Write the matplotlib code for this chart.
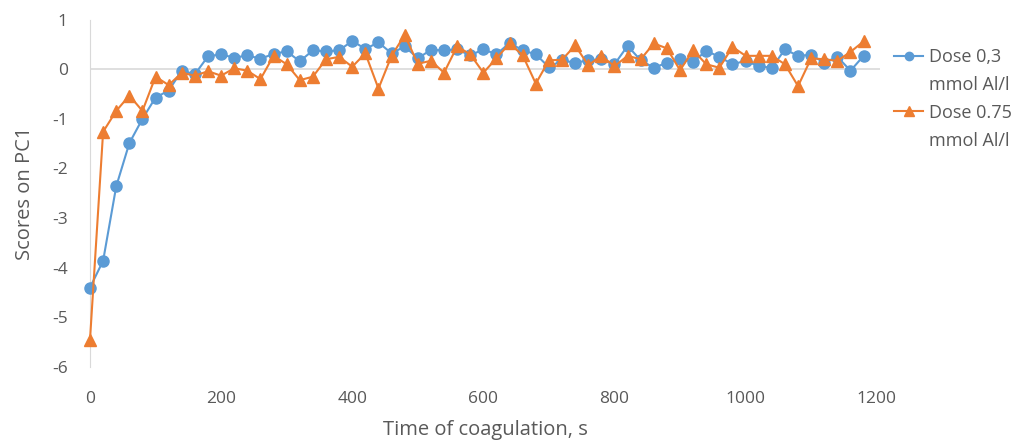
import numpy as np
import matplotlib
matplotlib.use("Agg")
from matplotlib import pyplot as plt
from matplotlib.lines import Line2D

# time of coagulation, s (every 20 s, 0..1180)
time_s = np.arange(0, 1181, 20)

dose_03 = [-4.40, -3.86, -2.36, -1.49, -1.00, -0.57, -0.43, -0.03, -0.10, 0.26,
           0.30, 0.23, 0.28, 0.21, 0.31, 0.36, 0.16, 0.38, 0.36, 0.38,
           0.57, 0.41, 0.54, 0.32, 0.46, 0.22, 0.39, 0.38, 0.40, 0.28,
           0.40, 0.30, 0.53, 0.38, 0.30, 0.04, 0.18, 0.13, 0.18, 0.20,
           0.10, 0.47, 0.18, 0.03, 0.13, 0.20, 0.15, 0.37, 0.25, 0.10,
           0.17, 0.06, 0.03, 0.40, 0.27, 0.29, 0.13, 0.25, -0.03, 0.27]
dose_075 = [-5.45, -1.26, -0.84, -0.53, -0.84, -0.15, -0.32, -0.07, -0.13, -0.04,
            -0.13, 0.02, -0.03, -0.20, 0.27, 0.10, -0.22, -0.15, 0.20, 0.25,
            0.05, 0.32, -0.39, 0.27, 0.69, 0.11, 0.17, -0.07, 0.46, 0.30,
            -0.07, 0.22, 0.52, 0.28, -0.29, 0.18, 0.19, 0.48, 0.08, 0.27,
            0.06, 0.27, 0.20, 0.52, 0.42, -0.02, 0.38, 0.10, 0.03, 0.45,
            0.27, 0.27, 0.27, 0.10, -0.34, 0.22, 0.20, 0.17, 0.35, 0.56]

blue = "#5B9BD5"
orange = "#ED7D31"
grey = "#595959"

plt.rcParams['font.family'] = ['Open Sans', 'DejaVu Sans']
plt.rcParams['axes.unicode_minus'] = False

fig = plt.figure(figsize=(10.22, 4.42), dpi=100)
ax = fig.add_axes([90 / 1022, 1 - 367 / 442, 790 / 1022, (367 - 19.6) / 442])

l1, = ax.plot(time_s, dose_03, color=blue, lw=1.5, marker="o", ms=8,
              clip_on=False, zorder=3)
l2, = ax.plot(time_s, dose_075, color=orange, lw=1.5, marker="^", ms=9,
              clip_on=False, zorder=3)

ax.set_xlim(0, 1205)
ax.set_ylim(-6, 1)
ax.set_xticks(range(0, 1201, 200))
ax.set_yticks(range(-6, 2))

for s in ["top", "right", "bottom"]:
    ax.spines[s].set_visible(False)
ax.spines["left"].set_color("#d9d9d9")
ax.axhline(0, color="#d9d9d9", lw=1.2, zorder=1)

ax.tick_params(axis="both", length=0, labelsize=12.5, colors=grey)
ax.tick_params(axis="x", pad=17)
ax.tick_params(axis="y", pad=16)

ax.set_xlabel("Time of coagulation, s", fontsize=14.5, color=grey, labelpad=10)
ax.set_ylabel("Scores on PC1", fontsize=14.5, color=grey, labelpad=12)

# legend: marker next to the first line of each two-line label
blank = Line2D([], [], alpha=0)
leg = fig.legend([l1, blank, l2, blank],
                 ["Dose 0,3", "mmol Al/l", "Dose 0.75", "mmol Al/l"],
                 loc="upper left", bbox_to_anchor=(878 / 1022, 1 - 32 / 442),
                 frameon=False, fontsize=13, handlelength=1.6, markerscale=0.75,
                 handletextpad=0.3, labelspacing=0.54, labelcolor=grey)

fig.savefig("out.png", dpi=100)
